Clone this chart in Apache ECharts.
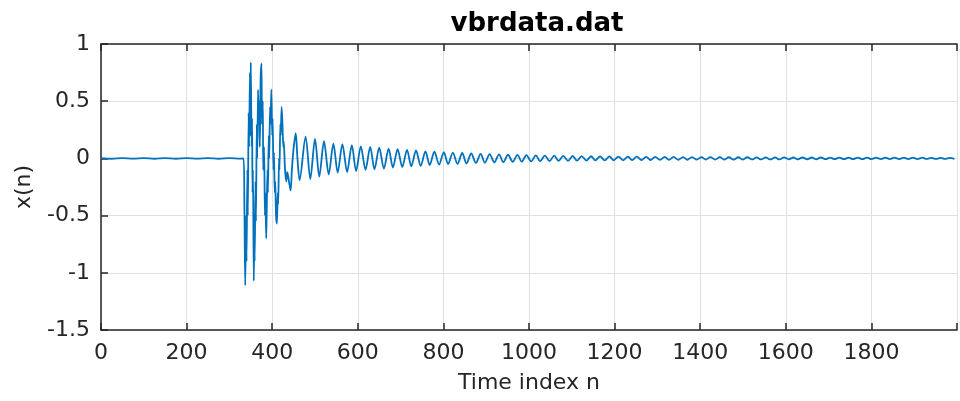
<!DOCTYPE html>
<html>
<head>
<meta charset="utf-8">
<script src="https://cdn.jsdelivr.net/npm/echarts@6/dist/echarts.min.js"></script>
<style>
  html, body { margin: 0; padding: 0; background: #fff; }
  #chart { width: 960px; height: 401px; }
</style>
</head>
<body>
<div id="chart"></div>
<script>
const xTicks = [0, 200, 400, 600, 800, 1000, 1200, 1400, 1600, 1800]
const yTicks = [-1.5, -1, -0.5, 0, 0.5, 1]

// quiet part before the hit
const preBurst = [
  [0, 0.002], [25, -0.003], [50, 0.003], [75, -0.002], [100, 0.003], [125, -0.003],
  [150, 0.002], [175, -0.003], [200, 0.003], [225, -0.002], [250, 0.003], [275, -0.003],
  [300, 0.002], [325, -0.002], [333, 0]
]

// the hit itself, dense and large
const burst = [
  [335, -0.4], [337, -1.11], [339, -0.5], [340, -0.9], [342, -0.1], [343, -0.5],
  [345, 0.4], [346, 0.1], [348, 0.75], [349, 0.2], [350, 0.84], [352, 0.1],
  [353, 0.35], [354, -0.3], [355, -0.1], [357, -1.07], [358, -0.6], [359, -0.9],
  [361, -0.2], [362, -0.55], [364, 0.3], [365, 0.0], [367, 0.6], [368, 0.3],
  [370, 0.5], [371, 0.1], [373, 0.7], [375, 0.83], [376, 0.3], [378, 0.5],
  [379, -0.1], [381, 0.1], [383, -0.5], [384, -0.3], [386, -0.7], [387, -0.5],
  [389, -0.1], [390, -0.3], [392, 0.2], [393, 0.0], [395, 0.45], [396, 0.3],
  [398, 0.6], [400, 0.2], [401, 0.35], [403, -0.1], [404, 0.05], [406, -0.3],
  [407, -0.2], [409, -0.5], [411, -0.57], [413, -0.3], [414, -0.4], [416, 0.0],
  [417, -0.1], [419, 0.3], [420, 0.2], [422, 0.45], [424, 0.3], [426, 0.1],
  [427, 0.15], [430, -0.1], [433, -0.2], [435, -0.12], [437, -0.15], [440, -0.22],
  [443, -0.28], [446, -0.1], [449, 0.05], [452, 0.15], [455, 0.22], [459, 0.0],
  [464, -0.19]
]

// ring-down maxima
const ringPeaks = [
  [478, 0.19], [500, 0.17], [521, 0.15], [543, 0.13], [564, 0.125], [586, 0.115],
  [607, 0.105], [629, 0.1], [650, 0.095], [672, 0.085], [693, 0.08], [715, 0.075],
  [736, 0.07], [758, 0.062], [779, 0.058], [801, 0.055], [822, 0.05], [844, 0.047],
  [865, 0.043], [887, 0.04], [908, 0.038], [930, 0.035], [951, 0.032], [973, 0.03],
  [994, 0.028], [1016, 0.026], [1037, 0.025], [1059, 0.024], [1080, 0.022], [1102, 0.021],
  [1123, 0.02], [1145, 0.019], [1166, 0.018], [1188, 0.017], [1209, 0.016], [1231, 0.016],
  [1252, 0.015], [1274, 0.014], [1295, 0.014], [1317, 0.013], [1338, 0.013], [1360, 0.012],
  [1381, 0.012], [1403, 0.011], [1424, 0.011], [1446, 0.011], [1467, 0.01], [1489, 0.01],
  [1510, 0.01], [1532, 0.009], [1553, 0.009], [1575, 0.009], [1596, 0.009], [1618, 0.008],
  [1639, 0.008], [1661, 0.008], [1682, 0.008], [1704, 0.007], [1725, 0.007], [1747, 0.007],
  [1768, 0.007], [1790, 0.007], [1811, 0.006], [1833, 0.006], [1854, 0.006], [1876, 0.006],
  [1897, 0.006], [1919, 0.006], [1940, 0.005], [1962, 0.005], [1983, 0.005]
]

// ring-down minima
const ringTroughs = [
  [489, -0.18], [510, -0.16], [532, -0.14], [553, -0.125], [575, -0.12], [596, -0.11],
  [618, -0.1], [639, -0.095], [661, -0.09], [682, -0.08], [704, -0.075], [725, -0.07],
  [747, -0.065], [768, -0.058], [790, -0.054], [811, -0.05], [833, -0.047], [854, -0.044],
  [876, -0.04], [897, -0.038], [919, -0.035], [940, -0.033], [962, -0.03], [983, -0.028],
  [1005, -0.026], [1026, -0.025], [1048, -0.024], [1069, -0.022], [1091, -0.021], [1112, -0.02],
  [1134, -0.019], [1155, -0.018], [1177, -0.017], [1198, -0.016], [1220, -0.016], [1241, -0.015],
  [1263, -0.014], [1284, -0.014], [1306, -0.013], [1327, -0.013], [1349, -0.012], [1370, -0.012],
  [1392, -0.011], [1413, -0.011], [1435, -0.011], [1456, -0.01], [1478, -0.01], [1499, -0.01],
  [1521, -0.009], [1542, -0.009], [1564, -0.009], [1585, -0.009], [1607, -0.008], [1628, -0.008],
  [1650, -0.008], [1671, -0.008], [1693, -0.007], [1714, -0.007], [1736, -0.007], [1757, -0.007],
  [1779, -0.007], [1800, -0.006], [1822, -0.006], [1843, -0.006], [1865, -0.006], [1886, -0.006],
  [1908, -0.006], [1929, -0.005], [1951, -0.005], [1972, -0.005], [1994, -0.005]
]

const signal = preBurst.concat(burst, ringPeaks, ringTroughs).sort((a, b) => a[0] - b[0])

const chart = echarts.init(document.getElementById('chart'))

const axisColor = '#262626'
const labelFont = 'DejaVu Sans'

chart.setOption({
  animation: false,
  backgroundColor: '#fff',
  title: {
    text: 'vbrdata.dat',
    left: 532,
    textAlign: 'center',
    top: 6,
    textStyle: {
      fontFamily: labelFont,
      fontWeight: 'bold',
      fontSize: 26,
      color: '#000'
    }
  },
  grid: {
    left: 101,
    top: 44,
    width: 860,
    height: 286,
    containLabel: false
  },
  xAxis: [
    {
      type: 'value',
      min: 0,
      max: 2000,
      interval: 200,
      name: 'Time index n',
      nameLocation: 'middle',
      nameGap: 42,
      nameTextStyle: { fontFamily: labelFont, fontSize: 22, color: axisColor },
      axisLine: { onZero: false, lineStyle: { color: axisColor, width: 1.5 } },
      axisTick: { inside: true, length: 7, lineStyle: { color: axisColor, width: 1.5 } },
      axisLabel: {
        fontFamily: labelFont,
        fontSize: 22,
        color: axisColor,
        margin: 12,
        formatter: v => (xTicks.includes(v) ? String(v) : '')
      },
      splitLine: { show: true, lineStyle: { color: '#e0e0e0', width: 1 } }
    },
    {
      type: 'value',
      position: 'top',
      min: 0,
      max: 2000,
      interval: 200,
      axisLine: { show: true, onZero: false, lineStyle: { color: axisColor, width: 1.5 } },
      axisTick: { inside: true, length: 7, lineStyle: { color: axisColor, width: 1.5 } },
      axisLabel: { show: false },
      splitLine: { show: false }
    }
  ],
  yAxis: {
    type: 'value',
    min: -1.5,
    max: 1,
    interval: 0.5,
    name: 'x(n)',
    nameLocation: 'middle',
    nameGap: 66,
    nameTextStyle: { fontFamily: labelFont, fontSize: 22, color: axisColor },
    axisLine: { show: true, onZero: false, lineStyle: { color: axisColor, width: 1.5 } },
    axisTick: { show: true, inside: true, length: 7, lineStyle: { color: axisColor, width: 1.5 } },
    axisLabel: {
      fontFamily: labelFont,
      fontSize: 22,
      color: axisColor,
      margin: 11,
      formatter: v => (yTicks.includes(v) ? String(v) : '')
    },
    splitLine: { show: true, lineStyle: { color: '#e0e0e0', width: 1 } }
  },
  series: [
    {
      type: 'line',
      xAxisIndex: 0,
      data: signal,
      showSymbol: false,
      smooth: 0.3,
      lineStyle: { color: '#0072BD', width: 1.8 },
      clip: true
    }
  ]
})
</script>
</body>
</html>
